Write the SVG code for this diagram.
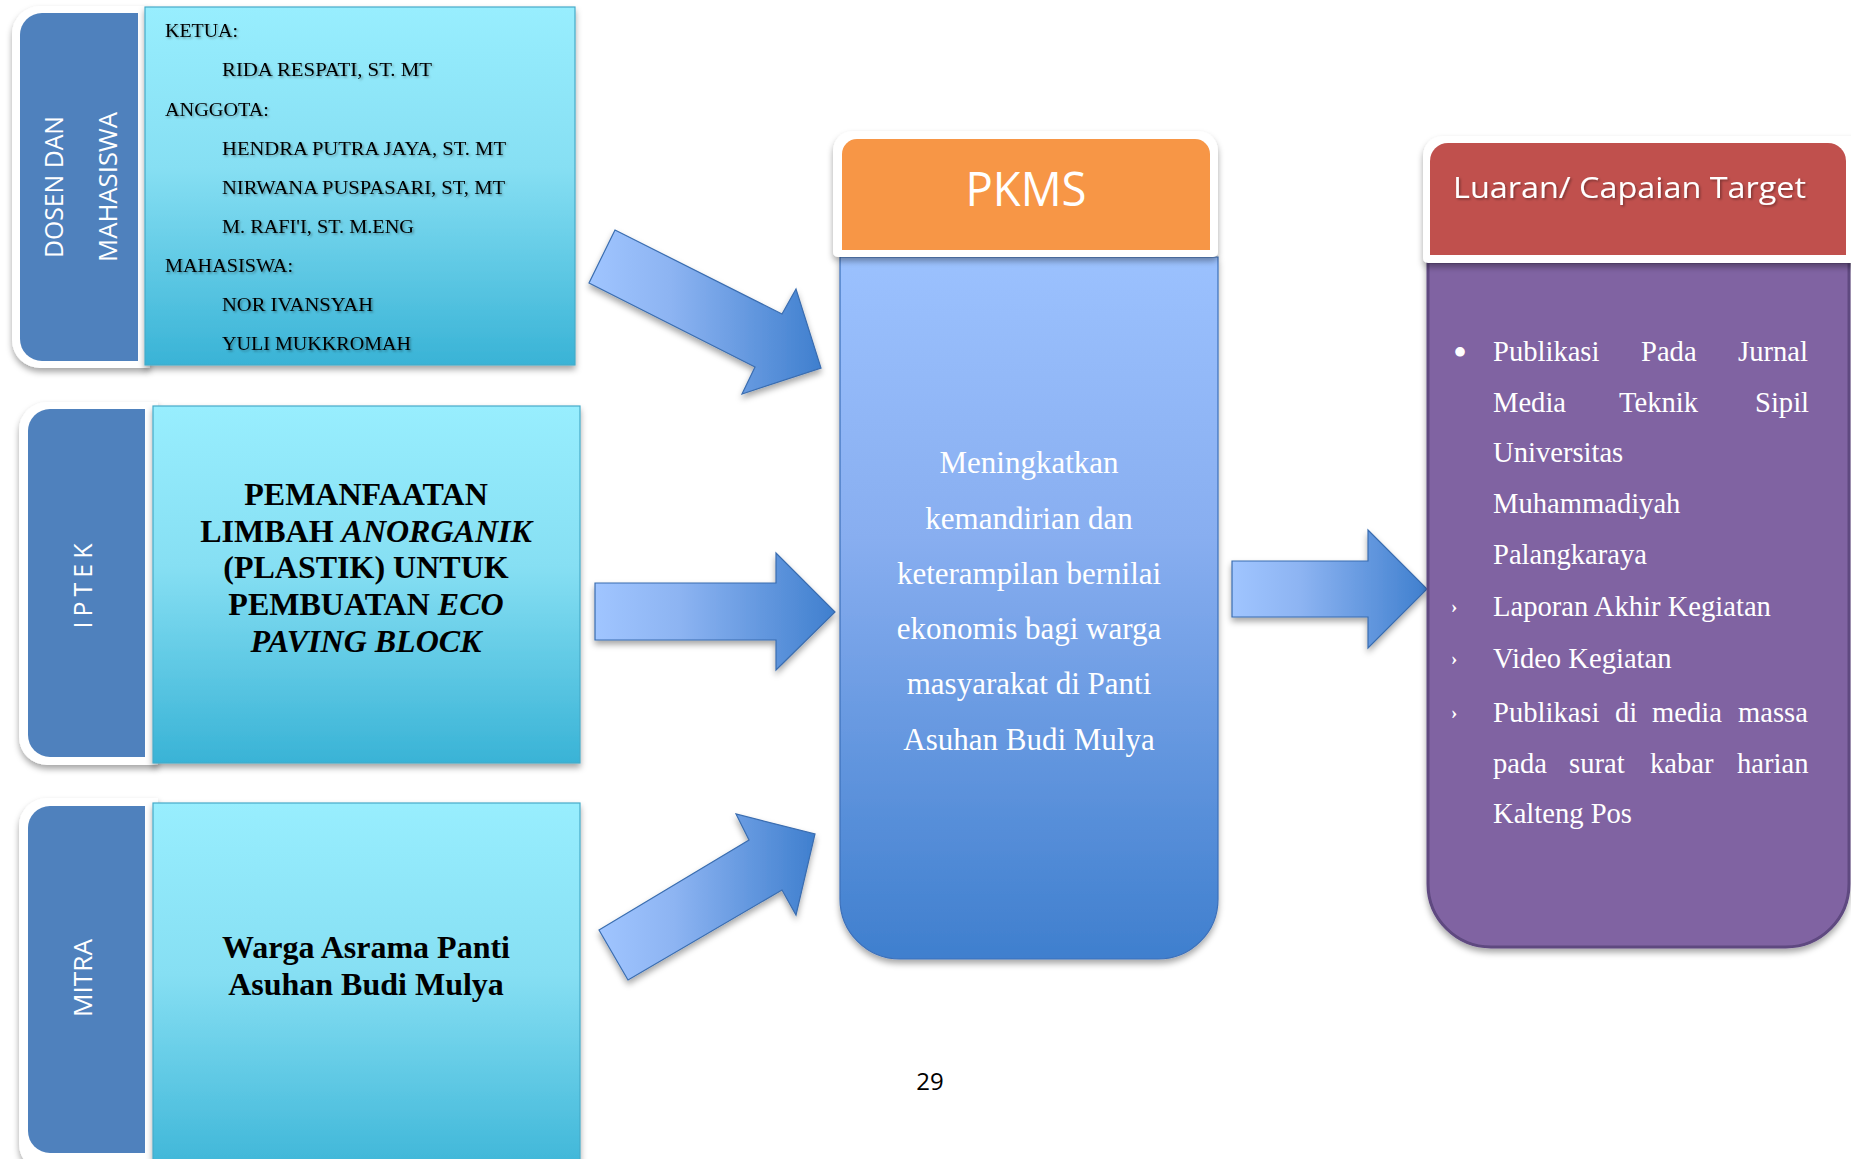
<svg xmlns="http://www.w3.org/2000/svg" width="1851" height="1159" viewBox="0 0 1851 1159">
<defs>
  <linearGradient id="cyanG" x1="0" y1="0" x2="0" y2="1">
    <stop offset="0" stop-color="#98EEFE"/>
    <stop offset="0.45" stop-color="#86DFF3"/>
    <stop offset="1" stop-color="#39B3D6"/>
  </linearGradient>
  <linearGradient id="bodyG" x1="0" y1="0" x2="0" y2="1">
    <stop offset="0" stop-color="#9BC1FE"/>
    <stop offset="0.4" stop-color="#88AEF0"/>
    <stop offset="1" stop-color="#3F7FCE"/>
  </linearGradient>
  <linearGradient id="arrowG" x1="0" y1="0" x2="1" y2="0">
    <stop offset="0" stop-color="#A0C5FF"/>
    <stop offset="0.35" stop-color="#8DB4F2"/>
    <stop offset="1" stop-color="#3F7FCE"/>
  </linearGradient>
  <filter id="shadow" x="-10%" y="-10%" width="130%" height="130%">
    <feDropShadow dx="0" dy="4" stdDeviation="3" flood-color="#000" flood-opacity="0.35"/>
  </filter>
  <filter id="tshadow" x="-5%" y="-20%" width="110%" height="150%">
    <feDropShadow dx="1.5" dy="1.5" stdDeviation="1" flood-color="#000" flood-opacity="0.35"/>
  </filter>
  <style>
    .frame { fill: #FFFFFF; filter: url(#shadow); }
    .tab { fill: #4F81BD; }
    .cyan { fill: url(#cyanG); stroke: #47ABC8; stroke-width: 1.2; filter: url(#shadow); }
    .vlabel { font-family: "Open Sans", "Liberation Sans", sans-serif; fill: #FFFFFF; font-size: 25px; text-anchor: middle; }
    .names { font-family: "Liberation Serif", serif; font-size: 18px; fill: #000; filter: url(#tshadow); }
    .bold { font-family: "Liberation Serif", serif; font-size: 32px; font-weight: bold; fill: #000; text-anchor: middle; }
    .arrow { fill: url(#arrowG); stroke: #3A6DB0; stroke-width: 1.2; filter: url(#shadow); }
    .head { font-family: "Open Sans", "Liberation Sans", sans-serif; fill: #FFFFFF; }
    .body { font-family: "Liberation Serif", serif; font-size: 31px; fill: #FFFFFF; text-anchor: middle; }
    .out { font-family: "Liberation Serif", serif; font-size: 28.6px; fill: #FFFFFF; }
    .dot { font-family: "Liberation Serif", serif; font-size: 40px; fill: #FFFFFF; }
    .tick { font-family: "Liberation Serif", serif; font-size: 19px; font-weight: bold; fill: #FFFFFF; }
  </style>
</defs>
<rect width="1851" height="1159" fill="#FFFFFF"/>

<g id="node-dosen">
  <path class="frame" d="M40,6 H150 V368 H40 A28,28 0 0 1 12,340 V34 A28,28 0 0 1 40,6 Z"/>
  <path class="tab" d="M42,13 H138 V361 H42 A22,22 0 0 1 20,339 V35 A22,22 0 0 1 42,13 Z"/>
  <rect class="cyan" x="145" y="7" width="430" height="358"/>
  <text class="vlabel" transform="translate(63,187) rotate(-90)" textLength="142" lengthAdjust="spacingAndGlyphs">DOSEN DAN</text>
  <text class="vlabel" transform="translate(117,187) rotate(-90)" textLength="150" lengthAdjust="spacingAndGlyphs">MAHASISWA</text>
  <text class="names" x="165" y="37" textLength="73" lengthAdjust="spacingAndGlyphs">KETUA:</text>
  <text class="names" x="222" y="76" textLength="210" lengthAdjust="spacingAndGlyphs">RIDA RESPATI, ST. MT</text>
  <text class="names" x="165" y="116" textLength="104" lengthAdjust="spacingAndGlyphs">ANGGOTA:</text>
  <text class="names" x="222" y="155" textLength="284" lengthAdjust="spacingAndGlyphs">HENDRA PUTRA JAYA, ST. MT</text>
  <text class="names" x="222" y="194" textLength="283" lengthAdjust="spacingAndGlyphs">NIRWANA PUSPASARI, ST, MT</text>
  <text class="names" x="222" y="233" textLength="192" lengthAdjust="spacingAndGlyphs">M. RAFI'I, ST. M.ENG</text>
  <text class="names" x="165" y="272" textLength="128" lengthAdjust="spacingAndGlyphs">MAHASISWA:</text>
  <text class="names" x="222" y="311" textLength="151" lengthAdjust="spacingAndGlyphs">NOR IVANSYAH</text>
  <text class="names" x="222" y="350" textLength="189" lengthAdjust="spacingAndGlyphs">YULI MUKKROMAH</text>
</g>

<g id="node-iptek">
  <path class="frame" d="M47,402 H158 V765 H47 A28,28 0 0 1 19,737 V430 A28,28 0 0 1 47,402 Z"/>
  <path class="tab" d="M50,409 H145 V757 H50 A22,22 0 0 1 28,735 V431 A22,22 0 0 1 50,409 Z"/>
  <rect class="cyan" x="153" y="406" width="427" height="357"/>
  <text class="vlabel" transform="translate(92,583) rotate(-90)" textLength="91" lengthAdjust="spacing" style="letter-spacing:6px">IPTEK</text>
  <text class="bold" x="366" y="505">PEMANFAATAN</text>
  <text class="bold" x="366" y="542">LIMBAH <tspan font-style="italic">ANORGANIK</tspan></text>
  <text class="bold" x="366" y="578">(PLASTIK) UNTUK</text>
  <text class="bold" x="366" y="615">PEMBUATAN <tspan font-style="italic">ECO</tspan></text>
  <text class="bold" x="366" y="652" font-style="italic">PAVING BLOCK</text>
</g>

<g id="node-mitra">
  <path class="frame" d="M47,798 H158 V1172 H47 A28,28 0 0 1 19,1144 V826 A28,28 0 0 1 47,798 Z"/>
  <path class="tab" d="M50,806 H145 V1153 H50 A22,22 0 0 1 28,1131 V828 A22,22 0 0 1 50,806 Z"/>
  <rect class="cyan" x="153" y="803" width="427" height="380"/>
  <text class="vlabel" transform="translate(92,978) rotate(-90)" textLength="78" lengthAdjust="spacingAndGlyphs">MITRA</text>
  <text class="bold" x="366" y="958">Warga Asrama Panti</text>
  <text class="bold" x="366" y="995">Asuhan Budi Mulya</text>
</g>

<g id="connectors">
  <polygon class="arrow" points="615,230 782,314 796,289 821,368 742,394 755,367 589,283"/>
  <polygon class="arrow" points="595,583 776,583 776,553 835,612 776,670 776,640 595,640"/>
  <polygon class="arrow" points="599,930 749,840 736,814 815,834 796,915 782,890 628,980"/>
  <polygon class="arrow" points="1232,561 1368,561 1368,530 1427,589 1368,648 1368,617 1232,617"/>
</g>

<g id="node-pkms">
  <path d="M840,257 H1218 V899 A60,60 0 0 1 1158,959 H900 A60,60 0 0 1 840,899 Z" fill="url(#bodyG)" stroke="#3C70BA" stroke-width="1.2" filter="url(#shadow)"/>
  <path class="frame" d="M853,131 H1198 A20,20 0 0 1 1218,151 V252 A5,5 0 0 1 1213,257 H838 A5,5 0 0 1 833,252 V151 A20,20 0 0 1 853,131 Z"/>
  <path d="M857,139 H1195 A15,15 0 0 1 1210,154 V250 H842 V154 A15,15 0 0 1 857,139 Z" fill="#F79646"/>
  <text class="head" x="1026" y="206" font-size="48" text-anchor="middle" textLength="121" lengthAdjust="spacingAndGlyphs">PKMS</text>
  <text class="body" x="1029" y="473">Meningkatkan</text>
  <text class="body" x="1029" y="529">kemandirian dan</text>
  <text class="body" x="1029" y="584">keterampilan bernilai</text>
  <text class="body" x="1029" y="639">ekonomis bagi warga</text>
  <text class="body" x="1029" y="694">masyarakat di Panti</text>
  <text class="body" x="1029" y="750">Asuhan Budi Mulya</text>
</g>

<g id="node-luaran">
  <path d="M1428,262 H1849 V884 A63,63 0 0 1 1786,947 H1491 A63,63 0 0 1 1428,884 Z" fill="#8064A2" stroke="#5E4880" stroke-width="3" filter="url(#shadow)"/>
  <path class="frame" d="M1443,136 H1860 V263 H1428 A5,5 0 0 1 1423,258 V156 A20,20 0 0 1 1443,136 Z"/>
  <path d="M1448,143 H1828 A18,18 0 0 1 1846,161 V255 H1430 V161 A18,18 0 0 1 1448,143 Z" fill="#C0504D"/>
  <text class="head" x="1453" y="198" font-size="30" textLength="353" lengthAdjust="spacingAndGlyphs" filter="url(#tshadow)">Luaran/ Capaian Target</text>
  <text class="dot" x="1453" y="366">•</text>
  <text class="out" y="361"><tspan x="1493">Publikasi</tspan><tspan x="1641">Pada</tspan><tspan x="1738">Jurnal</tspan></text>
  <text class="out" y="412"><tspan x="1493">Media</tspan><tspan x="1619">Teknik</tspan><tspan x="1755">Sipil</tspan></text>
  <text class="out" x="1493" y="462">Universitas</text>
  <text class="out" x="1493" y="513">Muhammadiyah</text>
  <text class="out" x="1493" y="564">Palangkaraya</text>
  <text class="tick" x="1451" y="613">›</text>
  <text class="out" x="1493" y="616">Laporan Akhir Kegiatan</text>
  <text class="tick" x="1451" y="665">›</text>
  <text class="out" x="1493" y="668">Video Kegiatan</text>
  <text class="tick" x="1451" y="719">›</text>
  <text class="out" y="722"><tspan x="1493">Publikasi</tspan><tspan x="1615">di</tspan><tspan x="1652">media</tspan><tspan x="1738">massa</tspan></text>
  <text class="out" y="773"><tspan x="1493">pada</tspan><tspan x="1569">surat</tspan><tspan x="1650">kabar</tspan><tspan x="1737">harian</tspan></text>
  <text class="out" x="1493" y="823">Kalteng Pos</text>
</g>

<text id="page-number" x="930" y="1090" font-family="'Open Sans', 'Liberation Sans', sans-serif" font-size="24" fill="#000" text-anchor="middle">29</text>
</svg>
